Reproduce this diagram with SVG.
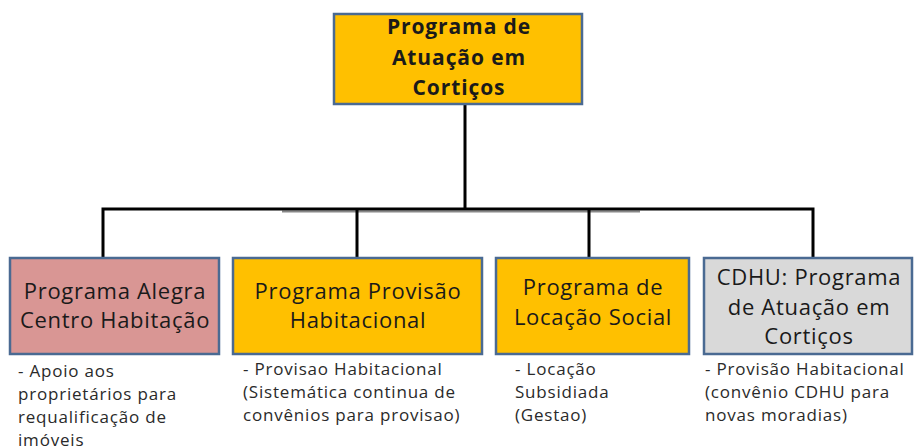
<svg xmlns="http://www.w3.org/2000/svg" width="916" height="448" viewBox="0 0 916 448">
<style>
.box{stroke:#4a6a92;stroke-width:2.5}
.gold{fill:#ffc000}
.pink{fill:#d99694}
.gray{fill:#d9d9d9}
.t{font-family:"Open Sans","Liberation Sans",sans-serif;font-size:22px;letter-spacing:0.7px;fill:#1a1a1a;text-anchor:middle}
.tb{font-family:"Open Sans","Liberation Sans",sans-serif;font-size:21px;letter-spacing:0.9px;font-weight:bold;fill:#1a1a1a;text-anchor:middle}
.n{font-family:"Open Sans","Liberation Sans",sans-serif;font-size:17px;letter-spacing:0.8px;fill:#2a2a2a}
.c{stroke:#000;stroke-width:3;fill:none}
</style>
<rect width="916" height="448" fill="#fff"/>
<g id="connectors">
<line x1="282" y1="211.5" x2="640" y2="211.5" stroke="#888" stroke-width="2"/>
<path class="c" d="M465,104 V209 M103,258 V209 H813 V258 M357,209 V258 M589,209 V258"/>
</g>
<g id="n0">
<rect class="box gold" x="334" y="14" width="248" height="90"/>
<text class="tb" x="459" y="34">Programa de</text>
<text class="tb" x="459" y="65">Atuação em</text>
<text class="tb" x="459" y="95">Cortiços</text>
</g>
<g id="n1">
<rect class="box pink" x="10" y="258" width="209" height="96"/>
<text class="t" x="115" y="299">Programa Alegra</text>
<text class="t" x="115" y="328">Centro Habitação</text>
<text class="n" x="18" y="377">- Apoio aos</text>
<text class="n" x="18" y="400">proprietários para</text>
<text class="n" x="18" y="423">requalificação de</text>
<text class="n" x="18" y="446">imóveis</text>
</g>
<g id="n2">
<rect class="box gold" x="233" y="258" width="249" height="96"/>
<text class="t" x="358" y="299">Programa Provisão</text>
<text class="t" x="358" y="328">Habitacional</text>
<text class="n" x="243" y="375">- Provisao Habitacional</text>
<text class="n" x="243" y="398">(Sistemática continua de</text>
<text class="n" x="243" y="421">convênios para provisao)</text>
</g>
<g id="n3">
<rect class="box gold" x="496" y="258" width="193" height="96"/>
<text class="t" x="593" y="295">Programa de</text>
<text class="t" x="593" y="325">Locação Social</text>
<text class="n" x="515" y="375">- Locação</text>
<text class="n" x="515" y="398">Subsidiada</text>
<text class="n" x="515" y="421">(Gestao)</text>
</g>
<g id="n4">
<rect class="box gray" x="704" y="258" width="208" height="96"/>
<text class="t" x="809" y="285">CDHU: Programa</text>
<text class="t" x="809" y="315">de Atuação em</text>
<text class="t" x="809" y="344">Cortiços</text>
<text class="n" x="705" y="375">- Provisão Habitacional</text>
<text class="n" x="705" y="398">(convênio CDHU para</text>
<text class="n" x="705" y="421">novas moradias)</text>
</g>
</svg>
